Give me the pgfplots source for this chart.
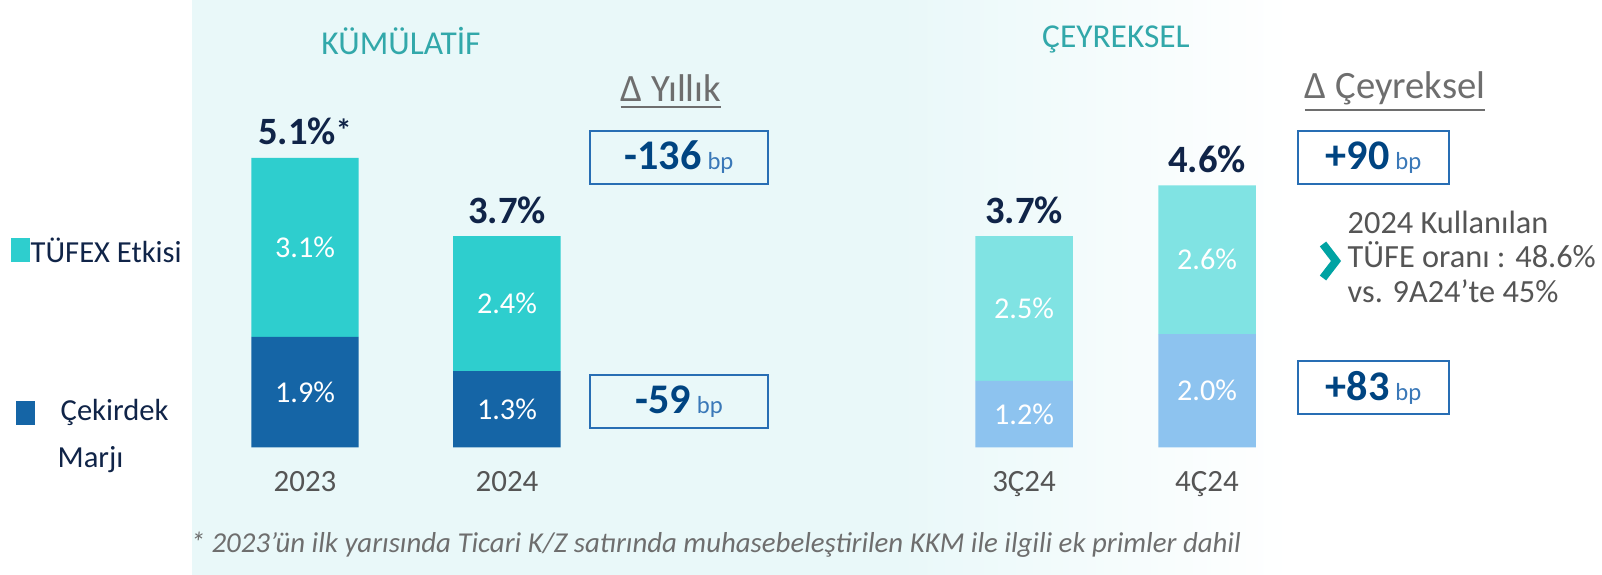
\documentclass[border=0pt]{standalone}
\usepackage{pgfplots}
\pgfplotsset{compat=1.18}
\usepackage{fontspec}
\setmainfont{Carlito}

\definecolor{tufA}{RGB}{46,206,206}
\definecolor{coreA}{RGB}{21,101,166}
\definecolor{tufB}{RGB}{128,227,227}
\definecolor{coreB}{RGB}{141,195,239}
\definecolor{bgcyan}{RGB}{233,248,249}
\definecolor{tealtitle}{RGB}{50,168,170}
\definecolor{navy}{RGB}{16,36,72}
\definecolor{boxblue}{RGB}{0,68,129}
\definecolor{boxline}{RGB}{40,110,180}
\definecolor{bpblue}{RGB}{58,120,184}
\definecolor{tickgray}{RGB}{85,85,85}
\definecolor{dgray}{RGB}{110,110,110}
\definecolor{chev}{RGB}{0,163,163}

\pgfplotsset{
  panel/.style={
    ybar stacked, scale only axis, clip=false,
    ymin=0, ymax=6, height=3.42cm,
    axis line style={draw=none}, tick style={draw=none},
    ytick=\empty,
    xticklabel style={anchor=base, yshift=-0.445cm,
      font=\fontsize{8.8}{10}\selectfont, text=tickgray},
    point meta=explicit symbolic,
    stacked ignores zero=false,
    nodes near coords={\pgfplotspointmeta},
  },
  % stacked labels already sit in the middle of their segment
  segl/.style={every node near coord/.append style={anchor=center,
      font=\fontsize{8.6}{10}\selectfont, text=white}},
  totl/.style={every node near coord/.append style={anchor=base,
      yshift=0.13cm, font=\bfseries\fontsize{11}{12}\selectfont, text=navy}},
}

\begin{document}
\begin{tikzpicture}
\path[use as bounding box] (0,0) rectangle (16.02,5.75);
\fill[white] (0,0) rectangle (16.02,5.75);
\fill[bgcyan] (1.92,0) rectangle (9.0,5.75);
\shade[left color=bgcyan, right color=white] (9.0,0) rectangle (12.9,5.75);

% kumulatif
\begin{axis}[panel, at={(1.92cm,1.275cm)}, anchor=south west,
  width=7cm, xmin=192, xmax=892, bar width=107.5,
  xtick={305,507}, xticklabels={2023,2024}]
\addplot[fill=coreA, draw=none, segl] coordinates {(305,1.94) [1.9\%] (507,1.34) [1.3\%]};
\addplot[fill=tufA, draw=none, segl] coordinates {(305,3.14) [3.1\%] (507,2.37) [2.4\%]};
\addplot[draw=none, fill=none, totl] coordinates {(305,0) [5.1\%{\fontsize{9}{9}\selectfont\raisebox{0.12em}{*}}] (507,0) [3.7\%]};
\end{axis}

% ceyreksel
\begin{axis}[panel, at={(8.92cm,1.275cm)}, anchor=south west,
  width=7.1cm, xmin=892, xmax=1602, bar width=97.5,
  xtick={1024,1207}, xticklabels={3Ç24,4Ç24}]
\addplot[fill=coreB, draw=none, segl] coordinates {(1024,1.17) [1.2\%] (1207,1.99) [2.0\%]};
\addplot[fill=tufB, draw=none, segl] coordinates {(1024,2.54) [2.5\%] (1207,2.61) [2.6\%]};
\addplot[draw=none, fill=none, totl] coordinates {(1024,0) [3.7\%] (1207,0) [4.6\%]};
\end{axis}

% titles
\node[text=tealtitle, font=\fontsize{9.5}{11}\selectfont] at (4.01,5.34) {KÜMÜLATİF};
\node[text=tealtitle, font=\fontsize{9.5}{11}\selectfont] at (11.16,5.36) {ÇEYREKSEL};
\node[text=dgray, font=\fontsize{11}{13}\selectfont] at (6.71,4.83) {\underline{Δ Yıllık}};
\node[text=dgray, font=\fontsize{11}{13}\selectfont] at (13.95,4.83) {\underline{Δ Çeyreksel}};

% delta boxes
\tikzset{dbox/.style={draw=boxline, line width=0.2mm, minimum width=1.78cm,
  minimum height=0.53cm, inner sep=0pt}}
\node[dbox] at (6.79,4.175) {{\bfseries\fontsize{12}{12}\selectfont\color{boxblue}-136}\,{\fontsize{7}{7}\selectfont\color{bpblue}bp}};
\node[dbox] at (6.79,1.735) {{\bfseries\fontsize{12}{12}\selectfont\color{boxblue}-59}\,{\fontsize{7}{7}\selectfont\color{bpblue}bp}};
\node[dbox, minimum width=1.51cm] at (13.735,4.17) {{\bfseries\fontsize{12}{12}\selectfont\color{boxblue}+90}\,{\fontsize{7}{7}\selectfont\color{bpblue}bp}};
\node[dbox, minimum width=1.51cm] at (13.735,1.87) {{\bfseries\fontsize{12}{12}\selectfont\color{boxblue}+83}\,{\fontsize{7}{7}\selectfont\color{bpblue}bp}};

% note on the right
\draw[chev, line width=0.8mm] (13.23,3.31) -- (13.36,3.14) -- (13.23,2.97);
\begin{scope}[every node/.style={anchor=base west, inner sep=0pt, text=tickgray,
  font=\fontsize{9.2}{11}\selectfont}]
\node at (13.47,3.41) {2024 Kullanılan};
\node at (13.47,3.07) {TÜFE oranı : 48.6\%};
\node at (13.47,2.72) {vs. 9A24’te 45\%};
\end{scope}

% legend
\fill[tufA] (0.11,3.13) rectangle (0.30,3.37);
\node[anchor=west, inner sep=0pt, text=navy, font=\fontsize{8.7}{10}\selectfont] at (0.30,3.25) {TÜFEX Etkisi};
\fill[coreA] (0.16,1.50) rectangle (0.35,1.74);
\node[anchor=west, inner sep=0pt, text=navy, font=\fontsize{8.7}{10}\selectfont] at (0.60,1.63) {Çekirdek};
\node[anchor=west, inner sep=0pt, text=navy, font=\fontsize{8.7}{10}\selectfont] at (0.57,1.15) {Marjı};

% footnote
\node[anchor=west, inner sep=0pt, text=dgray, font=\itshape\fontsize{8.2}{9}\selectfont] at (1.90,0.30)
  {* 2023'ün ilk yarısında Ticari K/Z satırında muhasebeleştirilen KKM ile ilgili ek primler dahil};
\end{tikzpicture}
\end{document}
